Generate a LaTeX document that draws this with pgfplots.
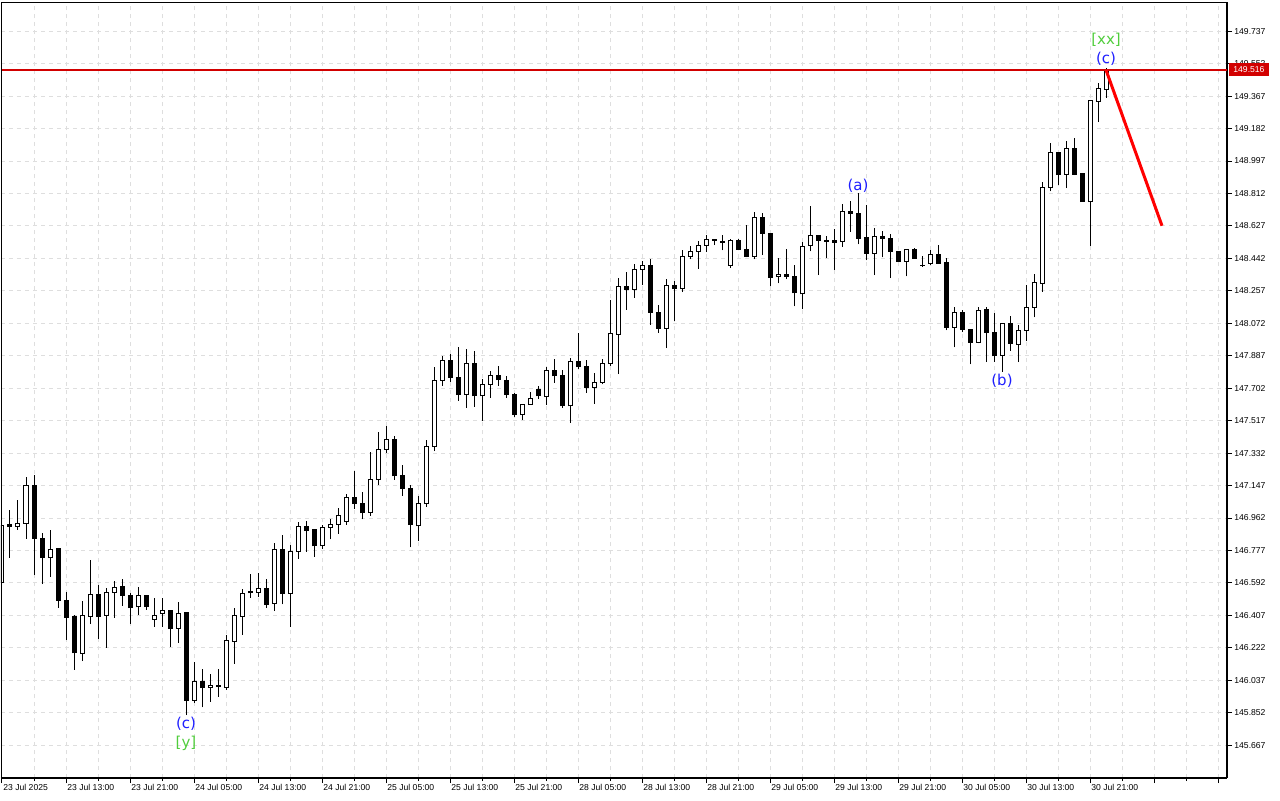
\documentclass[border=0pt]{standalone}
\usepackage{pgfplots}
\pgfplotsset{compat=1.18}
\usepackage{pgfplotstable}
\usepackage{fontspec}
\setmainfont{Liberation Sans}
\newfontfamily\wavefont{DejaVu Sans}
\newlength\px \setlength\px{0.5pt}
\definecolor{gridc}{RGB}{222,222,222}
\definecolor{wblue}{RGB}{30,30,255}
\definecolor{wgreen}{RGB}{80,205,60}
\definecolor{curred}{RGB}{210,0,0}

\pgfplotstableread{
k o h l c
0 146.596 146.939 146.575 146.918
1 146.926 147.008 146.736 146.915
2 146.915 147.065 146.894 146.932
3 146.932 147.198 146.843 147.150
4 147.150 147.207 146.637 146.844
5 146.847 146.875 146.586 146.736
6 146.736 146.894 146.628 146.784
7 146.787 146.791 146.451 146.493
8 146.493 146.539 146.267 146.396
9 146.398 146.408 146.098 146.194
10 146.191 146.489 146.147 146.404
11 146.402 146.723 146.358 146.527
12 146.527 146.580 146.272 146.400
13 146.408 146.565 146.223 146.539
14 146.539 146.603 146.394 146.567
15 146.569 146.615 146.462 146.522
16 146.523 146.533 146.360 146.451
17 146.455 146.569 146.411 146.518
18 146.522 146.523 146.440 146.457
19 146.385 146.506 146.343 146.404
20 146.419 146.506 146.343 146.436
21 146.436 146.438 146.229 146.334
22 146.334 146.482 146.251 146.419
23 146.421 146.425 145.839 145.923
24 145.923 146.141 145.908 146.033
25 146.031 146.102 145.883 145.995
26 145.997 146.071 145.915 146.009
27 146.009 146.102 145.944 146.003
28 145.997 146.294 145.982 146.265
29 146.259 146.449 146.132 146.408
30 146.402 146.558 146.297 146.533
31 146.544 146.643 146.508 146.536
32 146.539 146.649 146.514 146.562
33 146.562 146.615 146.451 146.468
34 146.476 146.818 146.434 146.784
35 146.784 146.865 146.470 146.531
36 146.533 146.808 146.343 146.770
37 146.772 146.939 146.730 146.915
38 146.915 146.945 146.770 146.890
39 146.894 146.894 146.742 146.804
40 146.804 146.921 146.787 146.909
41 146.909 146.958 146.841 146.926
42 146.926 147.018 146.873 146.978
43 146.943 147.099 146.924 147.080
44 147.080 147.230 147.015 147.044
45 147.046 147.110 146.955 146.992
46 146.995 147.338 146.975 147.184
47 147.184 147.452 147.150 147.354
48 147.354 147.487 147.334 147.411
49 147.411 147.430 147.179 147.203
50 147.206 147.264 147.088 147.129
51 147.133 147.149 146.795 146.924
52 146.918 147.089 146.831 147.046
53 147.044 147.407 147.027 147.371
54 147.369 147.821 147.344 147.747
55 147.747 147.886 147.716 147.861
56 147.861 147.897 147.739 147.764
57 147.764 147.935 147.631 147.665
58 147.665 147.924 147.591 147.844
59 147.844 147.912 147.597 147.659
60 147.659 147.753 147.517 147.724
61 147.724 147.798 147.648 147.776
62 147.776 147.827 147.716 147.751
63 147.747 147.770 147.648 147.665
64 147.667 147.677 147.540 147.551
65 147.551 147.608 147.523 147.608
66 147.608 147.679 147.608 147.643
67 147.694 147.713 147.643 147.659
68 147.654 147.821 147.608 147.804
69 147.804 147.867 147.733 147.773
70 147.776 147.804 147.591 147.601
71 147.602 147.873 147.505 147.855
72 147.855 148.017 147.813 147.825
73 147.827 147.861 147.677 147.705
74 147.707 147.787 147.614 147.736
75 147.736 147.867 147.724 147.844
76 147.842 148.205 147.830 148.015
77 148.009 148.329 147.782 148.282
78 148.282 148.364 148.150 148.264
79 148.266 148.410 148.218 148.380
80 148.380 148.427 148.289 148.403
81 148.403 148.437 148.064 148.135
82 148.135 148.175 148.018 148.044
83 148.044 148.323 147.930 148.289
84 148.289 148.313 148.087 148.272
85 148.272 148.488 148.249 148.454
86 148.454 148.511 148.437 148.482
87 148.482 148.540 148.383 148.517
88 148.517 148.574 148.477 148.551
89 148.551 148.551 148.517 148.545
90 148.540 148.574 148.488 148.534
91 148.403 148.551 148.386 148.545
92 148.545 148.551 148.488 148.494
93 148.494 148.632 148.448 148.454
94 148.454 148.705 148.437 148.676
95 148.676 148.699 148.460 148.585
96 148.585 148.585 148.282 148.334
97 148.340 148.443 148.300 148.351
98 148.351 148.494 148.323 148.340
99 148.340 148.403 148.169 148.245
100 148.239 148.534 148.152 148.511
101 148.517 148.739 148.482 148.574
102 148.574 148.577 148.346 148.545
103 148.545 148.568 148.444 148.540
104 148.545 148.608 148.378 148.534
105 148.540 148.752 148.509 148.710
106 148.710 148.767 148.594 148.699
107 148.699 148.813 148.522 148.557
108 148.562 148.745 148.431 148.471
109 148.471 148.614 148.346 148.568
110 148.568 148.596 148.448 148.557
111 148.557 148.579 148.329 148.482
112 148.484 148.484 148.425 148.425
113 148.427 148.496 148.340 148.494
114 148.494 148.501 148.443 148.443
115 148.403 148.454 148.393 148.399
116 148.414 148.488 148.403 148.465
117 148.465 148.517 148.414 148.414
118 148.420 148.443 148.032 148.049
119 148.049 148.163 147.935 148.135
120 148.135 148.146 148.021 148.038
121 148.038 148.038 147.838 147.964
122 147.964 148.165 147.958 148.146
123 148.152 148.165 147.850 148.021
124 148.021 148.129 147.853 147.887
125 147.890 148.072 147.796 148.072
126 148.072 148.115 147.916 147.958
127 147.952 148.062 147.850 148.032
128 148.032 148.289 147.971 148.163
129 148.163 148.351 148.106 148.306
130 148.300 148.876 148.253 148.847
131 148.847 149.098 148.824 149.047
132 149.047 149.047 148.862 148.919
133 148.921 149.109 148.842 149.070
134 149.070 149.127 148.916 148.921
135 148.927 148.927 148.765 148.765
136 148.765 149.343 148.514 149.343
137 149.337 149.440 149.218 149.412
138 149.406 149.526 149.358 149.516
}\candles

\begin{document}
\begin{tikzpicture}
\path[use as bounding box] (0,0) rectangle (1280\px,800\px);
\begin{axis}[
  at={(1\px,22\px)}, anchor=south west,
  scale only axis, width=1226\px, height=776\px,
  xmin=-0.125, xmax=153.125, ymin=145.4802, ymax=149.9034,
  axis x line*=bottom, axis y line*=right,
  axis line style={-, line width=2\px, black},
  tick align=outside,
  xtick={0,8,...,152},
  xticklabels={23 Jul 2025,23 Jul 13:00,23 Jul 21:00,24 Jul 05:00,24 Jul 13:00,24 Jul 21:00,25 Jul 05:00,25 Jul 13:00,25 Jul 21:00,28 Jul 05:00,28 Jul 13:00,28 Jul 21:00,29 Jul 05:00,29 Jul 13:00,29 Jul 21:00,30 Jul 05:00,30 Jul 13:00,30 Jul 21:00,{},{}},
  minor xtick={4,12,...,148},
  ytick={145.667,145.852,146.037,146.222,146.407,146.592,146.777,146.962,147.147,147.332,147.517,147.702,147.887,148.072,148.257,148.442,148.627,148.812,148.997,149.182,149.367,149.552,149.737},
  yticklabels={145.667,145.852,146.037,146.222,146.407,146.592,146.777,146.962,147.147,147.332,147.517,147.702,147.887,148.072,148.257,148.442,148.627,148.812,148.997,149.182,149.367,149.552,149.737},
  major tick length=5\px, minor tick length=3\px,
  every tick/.style={black, line width=1\px},
  xmajorgrids, xminorgrids, ymajorgrids,
  grid style={gridc, line width=1\px, dash pattern=on 4\px off 4\px},
  minor grid style={gridc, line width=1\px, dash pattern=on 4\px off 4\px},
  tick label style={font=\fontsize{4.3pt}{5pt}\selectfont, inner sep=0pt},
  xticklabel style={anchor=north west, xshift=1\px, yshift=-1\px},
  yticklabel style={anchor=west, xshift=2\px},
  clip mode=individual,
  candle/.style={draw=none, mark=none, forget plot,
    error bars/y dir=plus, error bars/y explicit, error bars/error mark=none},
]
% wicks
\addplot[candle, error bars/error bar style={draw=black, line width=1\px, line cap=butt}]
  table[x=k, y=l, y error plus expr=\thisrow{h}-\thisrow{l}] {\candles};
% bearish bodies
\addplot[candle, restrict expr to domain={\thisrow{c}-\thisrow{o}}{-10:0},
  error bars/error bar style={draw=black, line width=5\px, line cap=butt, shorten <=-0.5\px, shorten >=-0.5\px}]
  table[x=k, y=c, y error plus expr=\thisrow{o}-\thisrow{c}] {\candles};
% bullish bodies outline
\addplot[candle, restrict expr to domain={\thisrow{c}-\thisrow{o}}{0.0001:10},
  error bars/error bar style={draw=black, line width=5\px, line cap=butt, shorten <=-0.5\px, shorten >=-0.5\px}]
  table[x=k, y=o, y error plus expr=\thisrow{c}-\thisrow{o}] {\candles};
% bullish bodies fill
\addplot[candle, restrict expr to domain={\thisrow{c}-\thisrow{o}}{0.0001:10},
  error bars/error bar style={draw=white, line width=3\px, line cap=butt, shorten <=0.5\px, shorten >=0.5\px}]
  table[x=k, y=o, y error plus expr=\thisrow{c}-\thisrow{o}] {\candles};
% current price line
\addplot[draw=curred, line width=1.2\px, mark=none, forget plot] coordinates {(-0.125,149.516) (153.125,149.516)};
% projected move
\addplot[draw=red, line width=3\px, mark=none, forget plot] coordinates {(138,149.516) (145,148.628)};
% wave labels
\node[wblue, font=\wavefont\fontsize{7.5pt}{9pt}\selectfont, inner sep=0pt] at (axis cs:23,145.788) {(c)};
\node[wgreen, font=\wavefont\fontsize{7.5pt}{9pt}\selectfont, inner sep=0pt] at (axis cs:23,145.675) {[y]};
\node[wblue, font=\wavefont\fontsize{7.5pt}{9pt}\selectfont, inner sep=0pt] at (axis cs:107,148.855) {(a)};
\node[wblue, font=\wavefont\fontsize{7.5pt}{9pt}\selectfont, inner sep=0pt] at (axis cs:125,147.746) {(b)};
\node[wblue, font=\wavefont\fontsize{7.5pt}{9pt}\selectfont, inner sep=0pt] at (axis cs:138,149.578) {(c)};
\node[wgreen, font=\wavefont\fontsize{7.5pt}{9pt}\selectfont, inner sep=0pt] at (axis cs:138,149.689) {[xx]};
\coordinate (pl) at (axis cs:153.125,149.516);
\end{axis}
\draw[line width=1\px, black] (1.5\px,22\px) -- (1.5\px,797.5\px) -- (1227\px,797.5\px);
\node[fill=curred, text=white, anchor=west, inner xsep=4\px, inner ysep=0pt, minimum height=13\px,
  font=\fontsize{4.3pt}{5pt}\selectfont] at ([xshift=2\px]pl) {149.516};
\end{tikzpicture}
\end{document}
